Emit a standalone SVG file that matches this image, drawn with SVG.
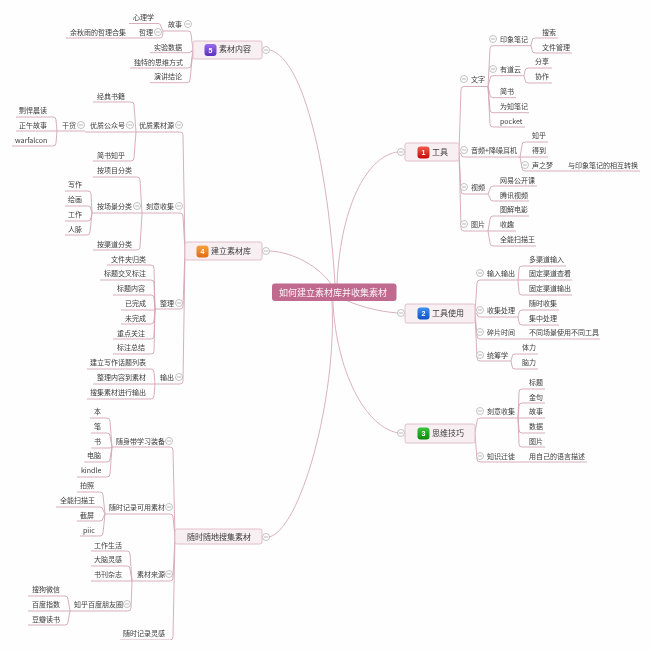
<svg xmlns="http://www.w3.org/2000/svg" width="650" height="652" viewBox="0 0 650 652">
<style>
text{font-family:"Noto Sans CJK SC","Liberation Sans",sans-serif;font-size:7px;fill:#3c3c3c}
.b text{font-size:8px;fill:#3a3a3a}
.b text.num,text.num{font-family:"Liberation Sans",sans-serif;font-size:7px;font-weight:bold;fill:#fff;text-anchor:middle}
.box{fill:#f8eff2;stroke:#e2bfca;stroke-width:1}
.main{fill:none;stroke:#d9b2be;stroke-width:1}
.lk{fill:none;stroke:#d3a6b5;stroke-width:.9}
</style>
<defs>
<filter id="soft" x="0" y="0" width="1" height="1"><feGaussianBlur stdDeviation="0.35"/></filter>
<g id="c"><circle r="3.5" fill="#fff" stroke="#a8a8a8" stroke-width=".7"/><path d="M-2 0H2" stroke="#999" stroke-width=".7"/></g>
<linearGradient id="red" x1="0" y1="0" x2="0" y2="1"><stop offset="0" stop-color="#f25a4a"/><stop offset="1" stop-color="#c80a0a"/></linearGradient>
<linearGradient id="blue" x1="0" y1="0" x2="0" y2="1"><stop offset="0" stop-color="#3f93ef"/><stop offset="1" stop-color="#0f50c8"/></linearGradient>
<linearGradient id="green" x1="0" y1="0" x2="0" y2="1"><stop offset="0" stop-color="#3cc43c"/><stop offset="1" stop-color="#0a8a0a"/></linearGradient>
<linearGradient id="orange" x1="0" y1="0" x2="0" y2="1"><stop offset="0" stop-color="#f6a33c"/><stop offset="1" stop-color="#e2690f"/></linearGradient>
<linearGradient id="purple" x1="0" y1="0" x2="0" y2="1"><stop offset="0" stop-color="#9a6cf0"/><stop offset="1" stop-color="#5a2fc0"/></linearGradient>
</defs>
<rect width="650" height="652" fill="#fefefe"/>
<g filter="url(#soft)">
<g id="connectors">
<path class="main" d="M270 50C305 60 328 170 335 284"/>
<path class="main" d="M269 251C295 252 320 268 331 284"/>
<path class="main" d="M269 537C300 530 337 400 332 301"/>
<path class="main" d="M337 284C341 200 370 155 398 152"/>
<path class="main" d="M338 296C352 305 380 312 398 313"/>
<path class="main" d="M333 301C335 360 360 425 398 433"/>
<path class="lk" d="M193 50L191 34Q191 31 188 31H163"/>
<path class="lk" d="M193 50L192 50Q192 52.7 189 52.7H150"/>
<path class="lk" d="M193 50L191 65Q191 68 188 68H130"/>
<path class="lk" d="M193 50L190 80Q190 82.7 187 82.7H150"/>
<path class="lk" d="M163 31L161 26.5Q161 23.5 158 23.5H129"/>
<path class="lk" d="M163 31Q163 38 160 38H66"/>
<path class="lk" d="M185 251L183 135Q183 132 180 132H136"/>
<path class="lk" d="M185 251L183 216Q183 213 180 213H142"/>
<path class="lk" d="M185 251L183 306Q183 309 180 309H155"/>
<path class="lk" d="M185 251L183 381Q183 384 180 384H155"/>
<path class="lk" d="M136 132L134 105Q134 102 131 102H93"/>
<path class="lk" d="M136 132H85"/>
<path class="lk" d="M136 132L134 158Q134 161 131 161H93"/>
<path class="lk" d="M57 131L56 120Q56 117 53 117H16"/>
<path class="lk" d="M57 131H16"/>
<path class="lk" d="M57 131L56 143Q56 146 53 146H12"/>
<path class="lk" d="M85 131H57"/>
<path class="lk" d="M142 213L140 180Q140 177 137 177H93"/>
<path class="lk" d="M142 213H92"/>
<path class="lk" d="M142 213L140 247Q140 250 137 250H93"/>
<path class="lk" d="M92 213L91 194Q91 191 88 191H65"/>
<path class="lk" d="M92 213L91 209Q91 206 88 206H65"/>
<path class="lk" d="M92 213L91 218Q91 221 88 221H65"/>
<path class="lk" d="M92 213L90 232Q90 235 87 235H65"/>
<path class="lk" d="M155 309L154 268Q154 265 151 265H107"/>
<path class="lk" d="M155 309L154 283Q154 280 151 280H100"/>
<path class="lk" d="M155 309L154 298Q154 295 151 295H113"/>
<path class="lk" d="M155 309L154 310H121"/>
<path class="lk" d="M155 309L154 321Q154 324 151 324H121"/>
<path class="lk" d="M155 309L154 336Q154 339 151 339H113"/>
<path class="lk" d="M155 309L154 351Q154 354 151 354H113"/>
<path class="lk" d="M155 384L154 372Q154 369 151 369H87"/>
<path class="lk" d="M155 384H93"/>
<path class="lk" d="M155 384L154 396Q154 399 151 399H87"/>
<path class="lk" d="M175 537L173 450Q173 447 170 447H112"/>
<path class="lk" d="M175 537L173 517Q173 514 170 514H105"/>
<path class="lk" d="M175 537L173 578Q173 581 170 581H132"/>
<path class="lk" d="M175 537L173 637Q173 640 170 640H120"/>
<path class="lk" d="M112 447L110 421Q110 418 107 418H90"/>
<path class="lk" d="M112 447L110 436Q110 433 107 433H91"/>
<path class="lk" d="M112 447L110 448H91"/>
<path class="lk" d="M112 447L110 459Q110 462 107 462H84"/>
<path class="lk" d="M112 447L110 474Q110 477 107 477H77"/>
<path class="lk" d="M105 514L103 495Q103 492 100 492H77"/>
<path class="lk" d="M105 514L103 510Q103 507 100 507H56"/>
<path class="lk" d="M105 514L103 518Q103 521 100 521H77"/>
<path class="lk" d="M105 514L103 533Q103 536 100 536H80"/>
<path class="lk" d="M132 581L130 554Q130 551 127 551H91"/>
<path class="lk" d="M132 581L130 569Q130 566 127 566H91"/>
<path class="lk" d="M132 581H91"/>
<path class="lk" d="M132 581L131 608Q131 611 128 611H70"/>
<path class="lk" d="M70 611L68 599Q68 596 65 596H28"/>
<path class="lk" d="M70 611H28"/>
<path class="lk" d="M70 611L68 622Q68 625 65 625H28"/>
<path class="lk" d="M459 152L461 89.500Q461 86.500 464 86.500H488"/>
<path class="lk" d="M459 152L461 154Q461 157 464 157H520"/>
<path class="lk" d="M459 152L461 191Q461 194 464 194H488"/>
<path class="lk" d="M459 152L461 228Q461 231 464 231H488"/>
<path class="lk" d="M488 86.5L490 48.700Q490 45.700 493 45.700H531"/>
<path class="lk" d="M488 86.5L490 78.700Q490 75.700 493 75.700H524"/>
<path class="lk" d="M488 86.5L490 94.700Q490 97.700 493 97.700H516"/>
<path class="lk" d="M488 86.5L490 109.700Q490 112.700 493 112.700H529"/>
<path class="lk" d="M488 86.5L490 124Q490 127 493 127H525"/>
<path class="lk" d="M531 45.700L532 41Q532 38 535 38H558"/>
<path class="lk" d="M531 45.700L532 50Q532 53 535 53H572"/>
<path class="lk" d="M524 75.700L525 71Q525 68 528 68H552"/>
<path class="lk" d="M524 75.700L525 80Q525 83 528 83H552"/>
<path class="lk" d="M520 157L522 145Q522 142 525 142H548"/>
<path class="lk" d="M520 157H548"/>
<path class="lk" d="M520 157L522 168Q522 171 525 171H640"/>
<path class="lk" d="M488 194L490 189Q490 186 493 186H537"/>
<path class="lk" d="M488 194L490 198Q490 201 493 201H529"/>
<path class="lk" d="M488 231L490 219Q490 216 493 216H529"/>
<path class="lk" d="M488 231H516"/>
<path class="lk" d="M488 231L490 243Q490 246 493 246H536"/>
<path class="lk" d="M475 313L477 283Q477 280 480 280H518"/>
<path class="lk" d="M475 313L477 314Q477 317 480 317H518"/>
<path class="lk" d="M475 313L477 336Q477 339 480 339H600"/>
<path class="lk" d="M475 313L477 358Q477 361 480 361H511"/>
<path class="lk" d="M518 280L519 269Q519 266 522 266H566"/>
<path class="lk" d="M518 280H572"/>
<path class="lk" d="M518 280L519 292Q519 295 522 295H572"/>
<path class="lk" d="M518 317L519 313Q519 310 522 310H559"/>
<path class="lk" d="M518 317L519 322Q519 325 522 325H559"/>
<path class="lk" d="M511 361L512 357Q512 354 515 354H538"/>
<path class="lk" d="M511 361L512 366Q512 369 515 369H538"/>
<path class="lk" d="M475 433L477 421Q477 418 480 418H518"/>
<path class="lk" d="M475 433L477 459Q477 462 480 462H587"/>
<path class="lk" d="M518 418L519 392Q519 389 522 389H545"/>
<path class="lk" d="M518 418L519 406Q519 403 522 403H545"/>
<path class="lk" d="M518 418H545"/>
<path class="lk" d="M518 418L519 430Q519 433 522 433H545"/>
<path class="lk" d="M518 418L519 444Q519 447 522 447H545"/>
</g>
<g id="root"><rect x="272" y="283.500" width="124.500" height="17.500" rx="3" fill="#bf6a8e"/><text x="279" y="295.500" style="font-size:9px;fill:#fdf3f7">如何建立素材库并收集素材</text></g>
<g id="n-tools" class="b"><use href="#c" x="401" y="152"/><rect class="box" x="405" y="143" width="54" height="18" rx="2"/><rect x="417.500" y="146.500" width="12" height="12" rx="3" fill="url(#red)"/><text class="num" x="423.500" y="155">1</text><text x="432" y="155">工具</text></g>
<g id="n-use" class="b"><use href="#c" x="401" y="313"/><rect class="box" x="405" y="304" width="70" height="19" rx="2"/><rect x="417.500" y="307.500" width="12" height="12" rx="3" fill="url(#blue)"/><text class="num" x="423.500" y="316">2</text><text x="432" y="316">工具使用</text></g>
<g id="n-think" class="b"><use href="#c" x="401" y="433"/><rect class="box" x="405" y="424" width="70" height="19" rx="2"/><rect x="417.500" y="427.500" width="12" height="12" rx="3" fill="url(#green)"/><text class="num" x="423.500" y="436">3</text><text x="432" y="436">思维技巧</text></g>
<g id="n-lib" class="b"><use href="#c" x="266" y="251"/><rect class="box" x="185" y="242" width="77" height="18" rx="2"/><rect x="196.500" y="245.500" width="12" height="12" rx="3" fill="url(#orange)"/><text class="num" x="202.500" y="254">4</text><text x="211" y="254">建立素材库</text></g>
<g id="n-content" class="b"><use href="#c" x="266" y="50"/><rect class="box" x="193" y="41" width="69" height="18" rx="2"/><rect x="204.500" y="44" width="12" height="12" rx="3" fill="url(#purple)"/><text class="num" x="210.500" y="52.500">5</text><text x="219" y="52">素材内容</text></g>
<g id="n-any" class="b"><use href="#c" x="266" y="537"/><rect class="box" x="175" y="529" width="87" height="15" rx="2"/><text x="187" y="540">随时随地搜集素材</text></g>
<g id="t1"><use href="#c" x="188" y="24"/><text x="168" y="26.500">故事</text></g>
<g id="t2"><text x="133" y="19.500">心理学</text></g>
<g id="t3"><use href="#c" x="158" y="32"/><text x="139" y="34.500">哲理</text></g>
<g id="t4"><text x="70" y="34.500">余秋雨的哲理合集</text></g>
<g id="t5"><text x="154" y="49.500">实验数据</text></g>
<g id="t6"><text x="134" y="64.500">独特的思维方式</text></g>
<g id="t7"><text x="154" y="78.500">演讲结论</text></g>
<g id="t8"><use href="#c" x="179" y="125"/><text x="139" y="127.500">优质素材源</text></g>
<g id="t9"><text x="97" y="98.500">经典书籍</text></g>
<g id="t10"><use href="#c" x="130" y="125"/><text x="90" y="127.500">优质公众号</text></g>
<g id="t11"><text x="97" y="157.500">简书知乎</text></g>
<g id="t12"><use href="#c" x="81" y="125"/><text x="62" y="127.500">干货</text></g>
<g id="t13"><text x="19" y="112.500">剽悍晨读</text></g>
<g id="t14"><text x="19" y="127.500">正午故事</text></g>
<g id="t15"><text x="15" y="142.500">warfalcon</text></g>
<g id="t16"><use href="#c" x="179" y="206"/><text x="146" y="208.500">刻意收集</text></g>
<g id="t17"><text x="97" y="172.500">按项目分类</text></g>
<g id="t18"><use href="#c" x="137" y="206"/><text x="97" y="208.500">按场景分类</text></g>
<g id="t19"><text x="97" y="246.500">按渠道分类</text></g>
<g id="t20"><text x="68" y="186.500">写作</text></g>
<g id="t21"><text x="68" y="201.500">绘画</text></g>
<g id="t22"><text x="68" y="216.500">工作</text></g>
<g id="t23"><text x="68" y="231.500">人脉</text></g>
<g id="t24"><use href="#c" x="179" y="303"/><text x="160" y="305.500">整理</text></g>
<g id="t25"><text x="111" y="261.500">文件夹归类</text></g>
<g id="t26"><text x="104" y="275.500">标题交叉标注</text></g>
<g id="t27"><text x="117" y="290.500">标题内容</text></g>
<g id="t28"><text x="125" y="305.500">已完成</text></g>
<g id="t29"><text x="125" y="320.500">未完成</text></g>
<g id="t30"><text x="117" y="335.500">重点关注</text></g>
<g id="t31"><text x="117" y="349.500">标注总结</text></g>
<g id="t32"><use href="#c" x="179" y="377"/><text x="160" y="379.500">输出</text></g>
<g id="t33"><text x="90" y="364.500">建立写作话题列表</text></g>
<g id="t34"><text x="97" y="379.500">整理内容到素材</text></g>
<g id="t35"><text x="90" y="394.500">搜集素材进行输出</text></g>
<g id="t36"><use href="#c" x="169" y="441"/><text x="116" y="443.500">随身带学习装备</text></g>
<g id="t37"><text x="94" y="413.500">本</text></g>
<g id="t38"><text x="94" y="428.500">笔</text></g>
<g id="t39"><text x="94" y="443.500">书</text></g>
<g id="t40"><text x="87" y="457.500">电脑</text></g>
<g id="t41"><text x="81" y="472.500">kindle</text></g>
<g id="t42"><use href="#c" x="169" y="507"/><text x="109" y="509.500">随时记录可用素材</text></g>
<g id="t43"><text x="80" y="487.500">拍照</text></g>
<g id="t44"><text x="60" y="502.500">全能扫描王</text></g>
<g id="t45"><text x="80" y="517.500">截屏</text></g>
<g id="t46"><text x="83" y="532.500">piic</text></g>
<g id="t47"><use href="#c" x="169" y="574"/><text x="137" y="576.500">素材来源</text></g>
<g id="t48"><text x="94" y="547.500">工作生活</text></g>
<g id="t49"><text x="94" y="561.500">大脑灵感</text></g>
<g id="t50"><text x="94" y="576.500">书刊杂志</text></g>
<g id="t51"><use href="#c" x="127" y="604"/><text x="74" y="606.500">知乎百度朋友圈</text></g>
<g id="t52"><text x="32" y="591.500">搜狗微信</text></g>
<g id="t53"><text x="32" y="606.500">百度指数</text></g>
<g id="t54"><text x="32" y="621.500">豆瓣读书</text></g>
<g id="t55"><text x="123" y="635.500">随时记录灵感</text></g>
<g id="r1"><use href="#c" x="464" y="79"/><text x="471" y="81.500">文字</text></g>
<g id="r2"><use href="#c" x="493" y="39"/><text x="500" y="41.500">印象笔记</text></g>
<g id="r3"><text x="542" y="34.500">搜索</text></g>
<g id="r4"><text x="542" y="49.500">文件管理</text></g>
<g id="r5"><use href="#c" x="493" y="69"/><text x="500" y="71.500">有道云</text></g>
<g id="r6"><text x="535" y="63.500">分享</text></g>
<g id="r7"><text x="535" y="78.500">协作</text></g>
<g id="r8"><text x="500" y="93.500">简书</text></g>
<g id="r9"><text x="500" y="108.500">为知笔记</text></g>
<g id="r10"><text x="500" y="123.500">pocket</text></g>
<g id="r11"><use href="#c" x="464" y="150"/><text x="471" y="152.500">音频+降噪耳机</text></g>
<g id="r12"><text x="532" y="137.500">知乎</text></g>
<g id="r13"><text x="532" y="152.500">得到</text></g>
<g id="r14"><use href="#c" x="525" y="165"/><text x="532" y="167.500">声之梦</text></g>
<g id="r15"><text x="568" y="167.500">与印象笔记的相互转换</text></g>
<g id="r16"><use href="#c" x="464" y="187"/><text x="471" y="189.500">视频</text></g>
<g id="r17"><text x="500" y="182.500">网易公开课</text></g>
<g id="r18"><text x="500" y="197.500">腾讯视频</text></g>
<g id="r19"><use href="#c" x="464" y="224"/><text x="471" y="226.500">图片</text></g>
<g id="r20"><text x="500" y="211.500">图解电影</text></g>
<g id="r21"><text x="500" y="226.500">收趣</text></g>
<g id="r22"><text x="500" y="241.500">全能扫描王</text></g>
<g id="r23"><use href="#c" x="480" y="273"/><text x="487" y="275.500">输入输出</text></g>
<g id="r24"><text x="529" y="261.500">多渠道输入</text></g>
<g id="r25"><text x="529" y="275.500">固定渠道查看</text></g>
<g id="r26"><text x="529" y="290.500">固定渠道输出</text></g>
<g id="r27"><use href="#c" x="480" y="310"/><text x="487" y="312.500">收集处理</text></g>
<g id="r28"><text x="529" y="305.500">随时收集</text></g>
<g id="r29"><text x="529" y="320.500">集中处理</text></g>
<g id="r30"><use href="#c" x="480" y="332"/><text x="487" y="334.500">碎片时间</text></g>
<g id="r31"><text x="529" y="334.500">不同场景使用不同工具</text></g>
<g id="r32"><use href="#c" x="480" y="355"/><text x="487" y="357.500">统筹学</text></g>
<g id="r33"><text x="522" y="349.500">体力</text></g>
<g id="r34"><text x="522" y="364.500">脑力</text></g>
<g id="r35"><use href="#c" x="480" y="411"/><text x="487" y="413.500">刻意收集</text></g>
<g id="r36"><text x="529" y="384.500">标题</text></g>
<g id="r37"><text x="529" y="399.500">金句</text></g>
<g id="r38"><text x="529" y="413.500">故事</text></g>
<g id="r39"><text x="529" y="428.500">数据</text></g>
<g id="r40"><text x="529" y="443.500">图片</text></g>
<g id="r41"><use href="#c" x="480" y="456"/><text x="487" y="458.500">知识迁徙</text></g>
<g id="r42"><text x="529" y="458.500">用自己的语言描述</text></g>
</g>
</svg>
